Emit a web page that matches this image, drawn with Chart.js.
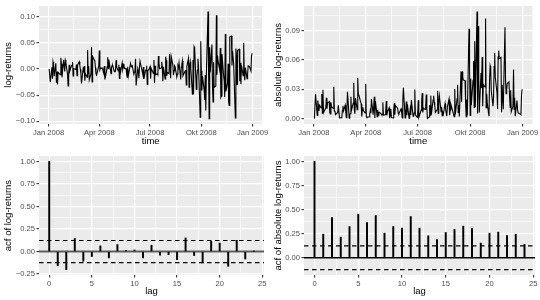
<!DOCTYPE html>
<html>
<head>
<meta charset="utf-8">
<script src="https://cdn.jsdelivr.net/npm/chart.js@4.4.1/dist/chart.umd.min.js"></script>
<style>
  html, body { margin: 0; padding: 0; background: #ffffff; }
  #wrap { position: relative; width: 540px; height: 300px; }
  #wrap canvas { position: absolute; }
</style>
</head>
<body>
<div id="wrap">
  <canvas id="retChart" width="270" height="150" style="left:0;top:0"></canvas>
  <canvas id="absChart" width="270" height="150" style="left:270px;top:0"></canvas>
  <canvas id="acfRetChart" width="270" height="150" style="left:0;top:150px"></canvas>
  <canvas id="acfAbsChart" width="270" height="150" style="left:270px;top:150px"></canvas>
</div>
<script>
// daily log-returns 2008, one array per month (trading days only)
const retJan = [0, 0.0000, -0.0249, 0.0032, -0.0185, 0.0135, 0.0079, -0.0137, 0.0108, -0.0252, -0.0056,
  -0.0295, -0.0061, -0.0111, 0.0212, 0.0100, -0.0160, 0.0174, 0.0061, -0.0048, 0.0166]
const retFeb = [0.0122, -0.0105, -0.0325, -0.0077, 0.0079, -0.0042, 0.0059, 0.0072, 0.0135, -0.0135,
  0.0008, -0.0009, 0.0083, -0.0130, 0.0078, 0.0137, 0.0069, -0.0009, -0.0090, -0.0275]
const retMar = [0.0005, -0.0035, 0.0052, -0.0223, -0.0084, -0.0156, 0.0365, -0.0090, 0.0051, -0.0210,
  -0.0090, 0.0415, -0.0246, 0.0237, 0.0152, 0.0023, -0.0088, -0.0115, -0.0080, 0.0057]
const retApr = [0.0353, -0.0017, 0.0012, 0.0016, 0.0016, -0.0050, -0.0084, 0.0055, -0.0200, -0.0040, 0.0040,
  0.0223, 0.0006, 0.0180, -0.0020, -0.0089, 0.0034, 0.0064, 0.0065, -0.0050, -0.0039, -0.0041]
const retMay = [0.0166, 0.0037, -0.0040, 0.0081, -0.0181, 0.0034, -0.0069, 0.0110, -0.0004, 0.0046, 0.0098,
  0.0010, 0.0007, -0.0090, -0.0159, 0.0040, -0.0134, 0.0105, 0.0053, 0.0048, 0.0062]
const retJun = [-0.0100, -0.0059, -0.0007, 0.0194, -0.0315, 0.0008, -0.0034, -0.0175, 0.0034, 0.0147, 0.0003,
  -0.0049, -0.0099, 0.0038, -0.0189, -0.0024, -0.0030, 0.0059, -0.0297, -0.0038, 0.0015]
const retJul = [0.0044, -0.0187, 0.0011, -0.0084, 0.0169, -0.0262, 0.0062, -0.0110, -0.0093, -0.0111, 0.0247,
  0.0119, 0.0003, 0.0017, 0.0138, 0.0034, -0.0235, 0.0041, -0.0189, 0.0234, 0.0168, -0.0131]
const retAug = [-0.0063, -0.0090, 0.0285, 0.0056, -0.0177, 0.0236, 0.0070, -0.0121, -0.0031, 0.0061, 0.0044,
  -0.0155, -0.0097, 0.0059, 0.0026, 0.0118, -0.0200, 0.0035, 0.0089, 0.0150, -0.0131]
const retSep = [-0.0041, -0.0020, -0.0304, 0.0044, 0.0203, -0.0347, 0.0062, 0.0137, 0.0021, -0.0483, 0.0173,
  -0.0483, 0.0424, 0.0395, -0.0389, -0.0157, -0.0020, 0.0195, 0.0034, -0.0920, 0.0528]
const retOct = [-0.0032, -0.0411, -0.0136, -0.0393, -0.0591, -0.0114, -0.0792, -0.0119, 0.1096, -0.0053, -0.0947,
  0.0416, -0.0062, 0.0466, -0.0313, -0.0629, 0.0126, -0.0351, -0.0323, 0.1025, -0.0112, 0.0254, 0.0153]
const retNov = [-0.0025, 0.0400, -0.0541, -0.0516, 0.0285, -0.0128, -0.0222, -0.0533, 0.0669, -0.0426,
  -0.0265, 0.0098, -0.0631, -0.0695, 0.0613, 0.0627, 0.0066, 0.0347, 0.0096]
const retDec = [-0.0935, 0.0391, 0.0255, -0.0297, 0.0358, 0.0377, -0.0234, 0.0118, -0.0289, 0.0071, -0.0128,
  0.0501, -0.0096, -0.0214, 0.0026, -0.0185, -0.0097, 0.0058, 0.0053, -0.0039, 0.0241, 0.0300]
const monthlyReturns = [retJan, retFeb, retMar, retApr, retMay, retJun, retJul, retAug, retSep, retOct, retNov, retDec]

// exchange holidays (no trading)
const holidays = ['2008-01-01', '2008-01-21', '2008-02-18', '2008-03-21', '2008-05-26',
  '2008-07-04', '2008-09-01', '2008-11-27', '2008-12-25']

// date axis: days since 1 Jan 2008
const dateTickDays = [0, 91, 182, 274, 366]
const dateTickLabels = ['Jan 2008', 'Apr 2008', 'Jul 2008', 'Okt 2008', 'Jan 2009']

// autocorrelations, lags 0..24
const lags = [0, 1, 2, 3, 4, 5, 6, 7, 8, 9, 10, 11, 12, 13, 14, 15, 16, 17, 18, 19, 20, 21, 22, 23, 24]
const acfReturns = [1.00, -0.155, -0.200, 0.144, -0.107, -0.055, 0.063, -0.070, 0.078, 0.011, 0.018, -0.070,
  0.070, -0.040, -0.035, -0.090, 0.151, -0.044, -0.126, 0.114, 0.095, -0.163, 0.125, -0.082, 0.003]
const acfAbsReturns = [1.00, 0.245, 0.417, 0.214, 0.324, 0.452, 0.366, 0.438, 0.255, 0.324, 0.307, 0.428,
  0.307, 0.228, 0.190, 0.262, 0.293, 0.328, 0.304, 0.152, 0.255, 0.266, 0.231, 0.245, 0.138]
const confBound = 0.123

const FONT = "'Liberation Sans', Arial, sans-serif"

// build points: each month's values on that month's trading days
function tradingPoints(values) {
  const pts = []
  const jan1 = Date.UTC(2008, 0, 1)
  values.forEach((monthVals, m) => {
    const days = []
    for (let d = 1; d <= 31; d++) {
      const t = Date.UTC(2008, m, d)
      const dt = new Date(t)
      if (dt.getUTCMonth() !== m) break
      const wd = dt.getUTCDay()
      if (wd === 0 || wd === 6) continue
      if (holidays.includes(dt.toISOString().slice(0, 10))) continue
      days.push((t - jan1) / 86400000)
    }
    monthVals.forEach((v, i) => { if (i < days.length) pts.push({ x: days[i], y: v }) })
  })
  return pts
}

const retPoints = tradingPoints(monthlyReturns)
const absPoints = retPoints.map(p => ({ x: p.x, y: Math.abs(p.y) }))

// grey panel background like ggplot
const panelBg = {
  id: 'panelBg',
  beforeDraw(chart) {
    const { ctx, chartArea: a } = chart
    ctx.save()
    ctx.fillStyle = '#EBEBEB'
    ctx.fillRect(a.left, a.top, a.right - a.left, a.bottom - a.top)
    ctx.restore()
  }
}

const fmtNum = v => (v < 0 ? '\u2212' + Math.abs(v).toFixed(2) : v.toFixed(2))

function midpoints(arr) {
  const out = []
  for (let i = 1; i < arr.length; i++) out.push((arr[i - 1] + arr[i]) / 2)
  return out
}

function panelAxis(o) {
  const all = o.major.map((v, i) => ({ value: v, text: o.labels[i] }))
    .concat(o.minor.map(v => ({ value: v, text: '', minor: true })))
    .sort((a, b) => a.value - b.value)
  return {
    type: 'linear',
    min: o.min,
    max: o.max,
    offset: false,
    afterBuildTicks: s => { s.ticks = all.map(t => ({ ...t })) },
    afterFit: s => { if (o.horizontal) s.height = o.size; else s.width = o.size },
    ticks: {
      autoSkip: false,
      maxRotation: 0,
      minRotation: 0,
      padding: 1.5,
      color: '#4D4D4D',
      font: { family: FONT, size: 7.6 },
      callback: (v, i, ticks) => ticks[i].text
    },
    grid: {
      offset: false,
      color: '#FFFFFF',
      lineWidth: c => (c.tick && c.tick.minor ? 0.6 : 1.2),
      tickColor: c => (c.tick && c.tick.minor ? 'rgba(0,0,0,0)' : '#333333'),
      tickWidth: 1.1,
      tickLength: 2.5
    },
    border: { display: false },
    title: {
      display: true,
      text: o.title,
      color: '#000000',
      font: { family: FONT, size: 9.5 },
      padding: o.horizontal ? { top: 0, bottom: 3 } : { top: 3, bottom: 0 }
    }
  }
}

function baseOptions(rightPad) {
  return {
    responsive: false,
    animation: false,
    events: [],
    layout: { padding: { top: 4, right: rightPad, bottom: 0, left: 0 } },
    plugins: { legend: { display: false }, tooltip: { enabled: false } }
  }
}

const timeMin = -17.2
const timeMax = 383.2
const timeAxis = size => panelAxis({
  horizontal: true, size, min: timeMin, max: timeMax,
  major: dateTickDays, labels: dateTickLabels, minor: midpoints(dateTickDays), title: 'time'
})

// log-returns over time
const retMajor = [-0.10, -0.05, 0, 0.05, 0.10]
new Chart(document.getElementById('retChart'), {
  type: 'line',
  data: { datasets: [{ data: retPoints, borderColor: '#000000', borderWidth: 1.1, pointRadius: 0, tension: 0 }] },
  options: {
    ...baseOptions(6),
    scales: {
      x: timeAxis(26),
      y: panelAxis({ size: 39, min: -0.105, max: 0.120, major: retMajor, labels: retMajor.map(fmtNum),
        minor: midpoints(retMajor), title: 'log-returns' })
    }
  },
  plugins: [panelBg]
})

// absolute log-returns over time
const absMajor = [0, 0.03, 0.06, 0.09]
new Chart(document.getElementById('absChart'), {
  type: 'line',
  data: { datasets: [{ data: absPoints, borderColor: '#000000', borderWidth: 1.1, pointRadius: 0, tension: 0 }] },
  options: {
    ...baseOptions(5),
    scales: {
      x: timeAxis(26),
      y: panelAxis({ size: 34, min: -0.0055, max: 0.1151, major: absMajor, labels: absMajor.map(fmtNum),
        minor: midpoints(absMajor.concat([0.12])), title: 'absolute log-returns' })
    }
  },
  plugins: [panelBg]
})

const lagMin = -1.2
const lagMax = 25.2
const lagMajor = [0, 5, 10, 15, 20, 25]
const lagAxis = () => panelAxis({
  horizontal: true, size: 25, min: lagMin, max: lagMax,
  major: lagMajor, labels: lagMajor.map(String), minor: midpoints(lagMajor), title: 'lag'
})

function acfDatasets(values, zeroColor, zeroWidth) {
  const hline = (y, color, width, dash) => ({
    type: 'line',
    data: [{ x: lagMin, y }, { x: lagMax, y }],
    borderColor: color, borderWidth: width, borderDash: dash, pointRadius: 0
  })
  return [
    {
      type: 'bar',
      data: lags.map((l, i) => ({ x: l, y: values[i] })),
      backgroundColor: '#000000',
      borderWidth: 0,
      barThickness: 1.3
    },
    hline(confBound, '#000000', 1.1, [4.5, 3.5]),
    hline(-confBound, '#000000', 1.1, [4.5, 3.5]),
    hline(0, zeroColor, zeroWidth, [])
  ]
}

// acf of log-returns
const acfMajor = [-0.25, 0, 0.25, 0.50, 0.75, 1.00]
new Chart(document.getElementById('acfRetChart'), {
  type: 'bar',
  data: { datasets: acfDatasets(acfReturns, '#5E5E5E', 2) },
  options: {
    ...baseOptions(6),
    scales: {
      x: lagAxis(),
      y: panelAxis({ size: 39, min: -0.26, max: 1.06, major: acfMajor, labels: acfMajor.map(fmtNum),
        minor: midpoints(acfMajor), title: 'acf of log-returns' })
    }
  },
  plugins: [panelBg]
})

// acf of absolute log-returns
const acfAbsMajor = [0, 0.25, 0.50, 0.75, 1.00]
new Chart(document.getElementById('acfAbsChart'), {
  type: 'bar',
  data: { datasets: acfDatasets(acfAbsReturns, '#000000', 1.4) },
  options: {
    ...baseOptions(5),
    scales: {
      x: lagAxis(),
      y: panelAxis({ size: 34, min: -0.179, max: 1.056, major: acfAbsMajor, labels: acfAbsMajor.map(fmtNum),
        minor: midpoints([-0.25].concat(acfAbsMajor)), title: 'acf of absolute log-returns' })
    }
  },
  plugins: [panelBg]
})
</script>
</body>
</html>
